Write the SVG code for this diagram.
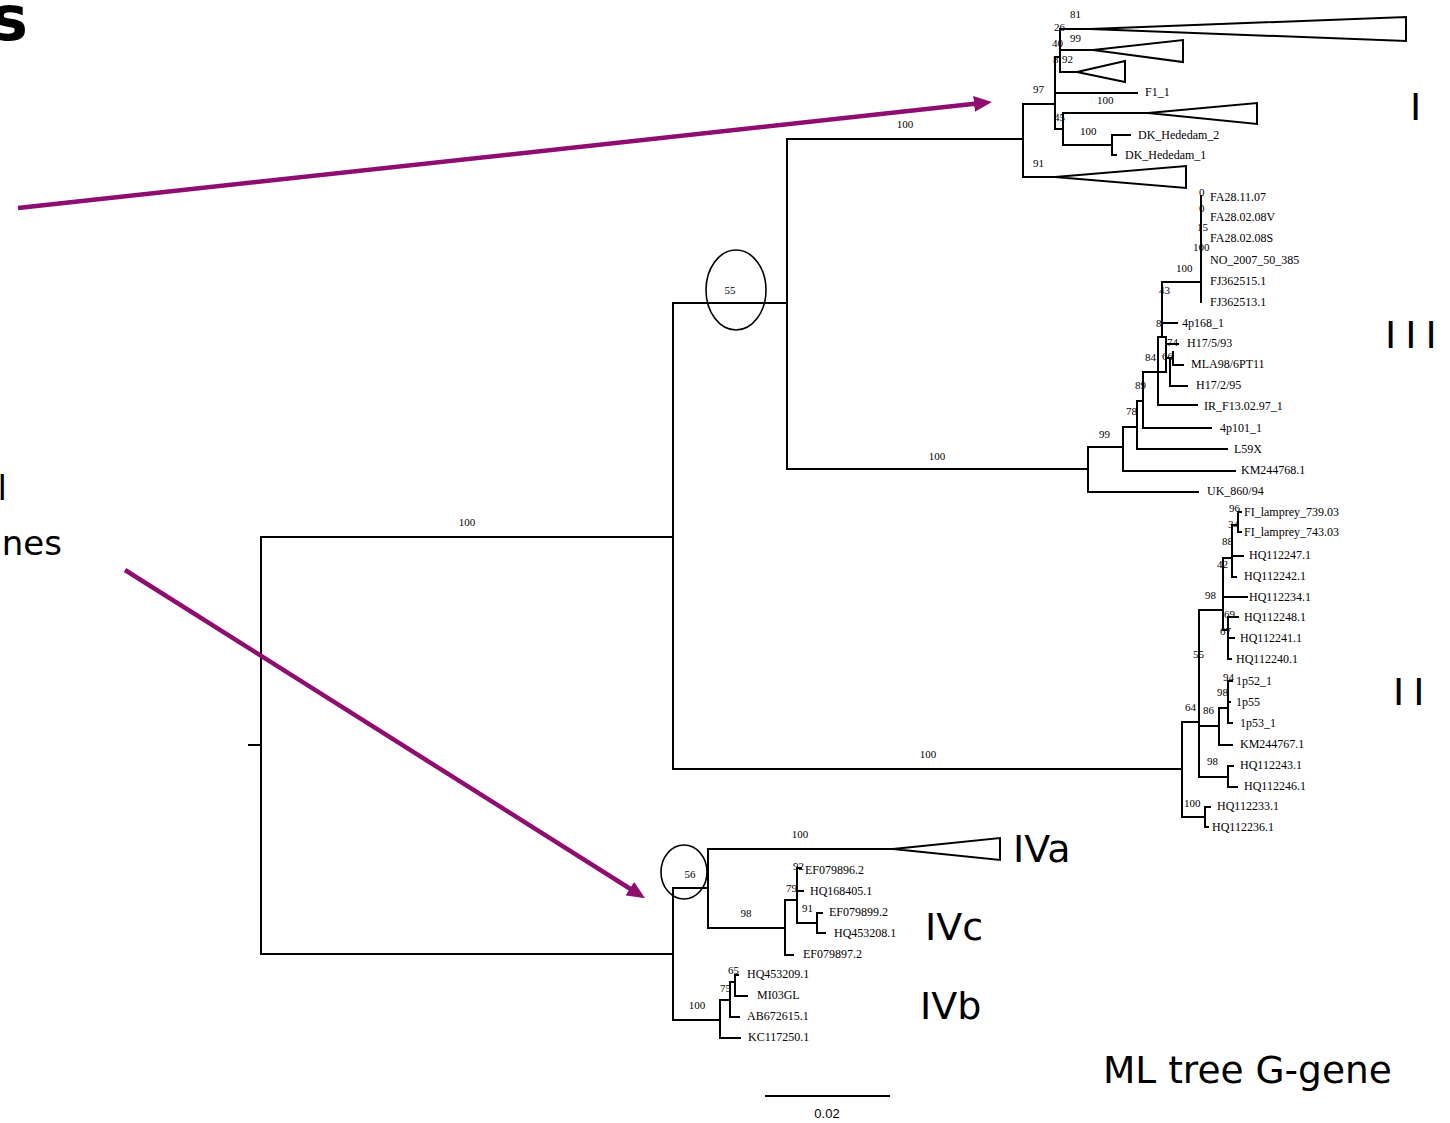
<svg xmlns="http://www.w3.org/2000/svg" width="1450" height="1123" viewBox="0 0 1450 1123">
<defs>
<style>
.br{fill:none;stroke:#000;stroke-width:2;stroke-linecap:square}
.tri{fill:#fff;stroke:#000;stroke-width:2;stroke-linejoin:miter}
.lb{font-family:"Liberation Serif",serif;font-size:12px;fill:#000}
.bs{font-family:"Liberation Serif",serif;font-size:11px;fill:#000}
.mid{text-anchor:middle}
.big{font-family:"DejaVu Sans",sans-serif;font-size:38px;fill:#000}
.side{font-family:"DejaVu Sans",sans-serif;font-size:34px;fill:#000}
.arr{fill:none;stroke:#8f0d6f;stroke-width:4.5}
.ring{fill:none;stroke:#000;stroke-width:1.6}
</style>
<marker id="ah" markerUnits="userSpaceOnUse" markerWidth="20" markerHeight="16" refX="12" refY="8" orient="auto">
<path d="M0,0 L18,8 L0,16 z" fill="#8f0d6f"/>
</marker>
</defs>
<rect width="1450" height="1123" fill="#fff"/>

<g id="title-fragment">
<text x="28" y="40" text-anchor="end" style="font-family:'DejaVu Sans',sans-serif;font-size:62px;font-weight:bold">s</text>
<text class="side" x="7" y="500" text-anchor="end">l</text>
<text class="side" x="62" y="555" text-anchor="end">nes</text>
</g>

<g id="connectors">
<path class="br" d="M249 745 H261 M261 537 V954 M261 537 H673 M673 303 V769 M673 303 H787 M787 139 V469 M787 139 H1023"/>
<!-- clade I -->
<path class="br" d="M1023 104 V177 M1023 104 H1055 M1023 177 H1055 M1055 57 V129 M1055 57 H1060 M1060 29 V72 M1060 29 H1090 M1060 50 H1093 M1060 72 H1077 M1055 93 H1137 M1055 129 H1063 M1063 113 V145 M1063 113 H1148 M1063 145 H1112 M1112 135 V155 M1112 135 H1130 M1112 155 H1116"/>
<!-- clade III -->
<path class="br" d="M787 469 H1088 M1088 447 V492 M1088 492 H1198 M1088 447 H1123 M1123 427 V471 M1123 471 H1235 M1123 427 H1137 M1137 401 V449 M1137 449 H1227 M1137 401 H1143 M1143 372 V428 M1143 428 H1211 M1143 372 H1166 M1158 337 V405 M1158 405 H1197 M1158 337 H1166 M1162 282 V337 M1162 282 H1201 M1162 323 H1177 M1166 337 V372 M1166 344 H1178 M1166 358 H1173 M1173 352 V365 M1173 365 H1183 M1170 358 V386 M1170 386 H1187 M1201 196 V302"/>
<!-- clade II -->
<path class="br" d="M673 769 H1182 M1182 722 V817 M1182 722 H1199 M1182 817 H1205 M1205 807 V827 M1205 807 H1210 M1205 827 H1208 M1199 610 V777 M1199 610 H1223 M1199 726 H1219 M1199 777 H1228 M1228 766 V787 M1228 766 H1233 M1228 787 H1237 M1219 708 V745 M1219 745 H1232 M1219 708 H1228 M1228 681 V723 M1228 723 H1232 M1228 681 H1232 M1228 702 H1230 M1223 558 V630 M1223 558 H1232 M1223 597 H1247 M1223 630 H1228 M1232 525 V577 M1232 525 H1238 M1232 556 H1243 M1232 577 H1236 M1238 512 V532 M1238 512 H1241 M1238 532 H1241 M1228 617 V659 M1228 617 H1238 M1228 638 H1234 M1228 659 H1231"/>
<!-- clade IV -->
<path class="br" d="M261 954 H673 M673 888 V1020 M673 888 H708 M708 849 V928 M708 849 H893 M708 928 H785 M785 900 V955 M785 955 H793 M785 900 H797 M797 868 V923 M797 868 H801 M797 891 H803 M797 923 H817 M817 913 V933 M817 913 H822 M817 933 H825 M673 1020 H720 M720 1000 V1038 M720 1038 H740 M720 1000 H730 M730 982 V1017 M730 1017 H739 M730 982 H735 M735 975 V996 M735 975 H738 M735 996 H747"/>
<!-- arrows -->
<line class="arr" x1="18" y1="208" x2="986" y2="102.6" marker-end="url(#ah)"/>
<line class="arr" x1="125" y1="570" x2="640" y2="895" marker-end="url(#ah)"/>
</g>

<g id="root-labels">
<text class="bs mid" x="467" y="526">100</text>
<ellipse class="ring" cx="736" cy="290" rx="30" ry="40"/>
<text class="bs mid" x="730" y="294">55</text>
<text class="bs mid" x="905" y="128">100</text>
<text class="bs mid" x="937" y="460">100</text>
<text class="bs mid" x="928" y="758">100</text>
</g>

<g id="clade-I">
<polygon class="tri" points="1090,29 1406,17 1406,41"/>
<polygon class="tri" points="1093,50 1183,40 1183,62"/>
<polygon class="tri" points="1077,72 1125,61 1125,82"/>
<polygon class="tri" points="1148,113 1257,103 1257,124"/>
<polygon class="tri" points="1055,177 1186,166 1186,188"/>
<text class="bs" x="1070" y="18">81</text>
<text class="bs" x="1054" y="31">26</text>
<text class="bs" x="1070" y="42">99</text>
<text class="bs" x="1052" y="47">40</text>
<text class="bs" x="1053" y="63">8</text>
<text class="bs" x="1062" y="63">92</text>
<text class="bs" x="1033" y="93">97</text>
<text class="bs" x="1097" y="104">100</text>
<text class="lb" x="1145" y="96">F1_1</text>
<text class="bs" x="1054" y="121">45</text>
<text class="bs" x="1080" y="135">100</text>
<text class="lb" x="1138" y="139">DK_Hededam_2</text>
<text class="lb" x="1125" y="159">DK_Hededam_1</text>
<text class="bs" x="1033" y="167">91</text>
<text class="big" x="1410" y="120">I</text>
</g>

<g id="clade-III">
<text class="bs" x="1199" y="196">0</text>
<text class="bs" x="1199" y="212">0</text>
<text class="bs" x="1197" y="231">15</text>
<text class="bs" x="1193" y="251">100</text>
<text class="bs" x="1176" y="272">100</text>
<text class="lb" x="1210" y="201">FA28.11.07</text>
<text class="lb" x="1210" y="221">FA28.02.08V</text>
<text class="lb" x="1210" y="242">FA28.02.08S</text>
<text class="lb" x="1210" y="264">NO_2007_50_385</text>
<text class="lb" x="1210" y="285">FJ362515.1</text>
<text class="lb" x="1210" y="306">FJ362513.1</text>
<text class="bs" x="1159" y="294">43</text>
<text class="bs" x="1156" y="327">8</text>
<text class="lb" x="1182" y="327">4p168_1</text>
<text class="bs" x="1167" y="346">74</text>
<text class="lb" x="1187" y="347">H17/5/93</text>
<text class="bs" x="1162" y="360">66</text>
<text class="bs" x="1145" y="361">84</text>
<text class="lb" x="1191" y="368">MLA98/6PT11</text>
<text class="lb" x="1196" y="389">H17/2/95</text>
<text class="bs" x="1135" y="389">89</text>
<text class="lb" x="1204" y="410">IR_F13.02.97_1</text>
<text class="bs" x="1126" y="415">78</text>
<text class="lb" x="1220" y="432">4p101_1</text>
<text class="bs" x="1099" y="438">99</text>
<text class="lb" x="1234" y="453">L59X</text>
<text class="lb" x="1241" y="474">KM244768.1</text>
<text class="lb" x="1207" y="495">UK_860/94</text>
<text class="big" x="1385" y="348" letter-spacing="9">III</text>
</g>

<g id="clade-II">
<text class="bs" x="1229" y="512">96</text>
<text class="lb" x="1244" y="516">FI_lamprey_739.03</text>
<text class="bs" x="1228" y="528">34</text>
<text class="lb" x="1244" y="536">FI_lamprey_743.03</text>
<text class="bs" x="1222" y="545">88</text>
<text class="lb" x="1249" y="559">HQ112247.1</text>
<text class="bs" x="1217" y="568">42</text>
<text class="lb" x="1244" y="580">HQ112242.1</text>
<text class="bs" x="1205" y="599">98</text>
<text class="lb" x="1249" y="601">HQ112234.1</text>
<text class="bs" x="1224" y="618">69</text>
<text class="lb" x="1244" y="621">HQ112248.1</text>
<text class="bs" x="1220" y="635">67</text>
<text class="lb" x="1240" y="642">HQ112241.1</text>
<text class="bs" x="1193" y="658">55</text>
<text class="lb" x="1236" y="663">HQ112240.1</text>
<text class="bs" x="1223" y="681">94</text>
<text class="lb" x="1236" y="685">1p52_1</text>
<text class="bs" x="1217" y="696">98</text>
<text class="lb" x="1236" y="706">1p55</text>
<text class="bs" x="1185" y="711">64</text>
<text class="bs" x="1203" y="714">86</text>
<text class="lb" x="1240" y="727">1p53_1</text>
<text class="lb" x="1240" y="748">KM244767.1</text>
<text class="bs" x="1207" y="765">98</text>
<text class="lb" x="1240" y="769">HQ112243.1</text>
<text class="lb" x="1244" y="790">HQ112246.1</text>
<text class="bs" x="1184" y="807">100</text>
<text class="lb" x="1217" y="810">HQ112233.1</text>
<text class="lb" x="1212" y="831">HQ112236.1</text>
<text class="big" x="1393" y="705" letter-spacing="9">II</text>
</g>

<g id="clade-IV">
<polygon class="tri" points="893,849 1000,838 1000,860"/>
<ellipse class="ring" cx="684" cy="872" rx="23" ry="27"/>
<text class="bs mid" x="800" y="838">100</text>
<text class="bs mid" x="690" y="878">56</text>
<text class="bs" x="793" y="870">92</text>
<text class="lb" x="805" y="874">EF079896.2</text>
<text class="bs" x="786" y="892">79</text>
<text class="lb" x="810" y="895">HQ168405.1</text>
<text class="bs" x="802" y="912">91</text>
<text class="lb" x="829" y="916">EF079899.2</text>
<text class="bs mid" x="746" y="917">98</text>
<text class="lb" x="834" y="937">HQ453208.1</text>
<text class="lb" x="803" y="958">EF079897.2</text>
<text class="bs" x="728" y="974">65</text>
<text class="lb" x="747" y="978">HQ453209.1</text>
<text class="bs" x="720" y="992">75</text>
<text class="lb" x="757" y="999">MI03GL</text>
<text class="bs mid" x="697" y="1009">100</text>
<text class="lb" x="747" y="1020">AB672615.1</text>
<text class="lb" x="748" y="1041">KC117250.1</text>
<text class="big" x="1013" y="862">IVa</text>
<text class="big" x="925" y="940">IVc</text>
<text class="big" x="920" y="1019">IVb</text>
</g>

<g id="scale-bar">
<path class="br" d="M766 1096 H889"/>
<text x="827" y="1118" text-anchor="middle" style="font-family:'Liberation Sans',sans-serif;font-size:13px">0.02</text>
</g>

<text class="big" x="1103" y="1083" style="font-size:37.5px">ML tree G-gene</text>
</svg>
